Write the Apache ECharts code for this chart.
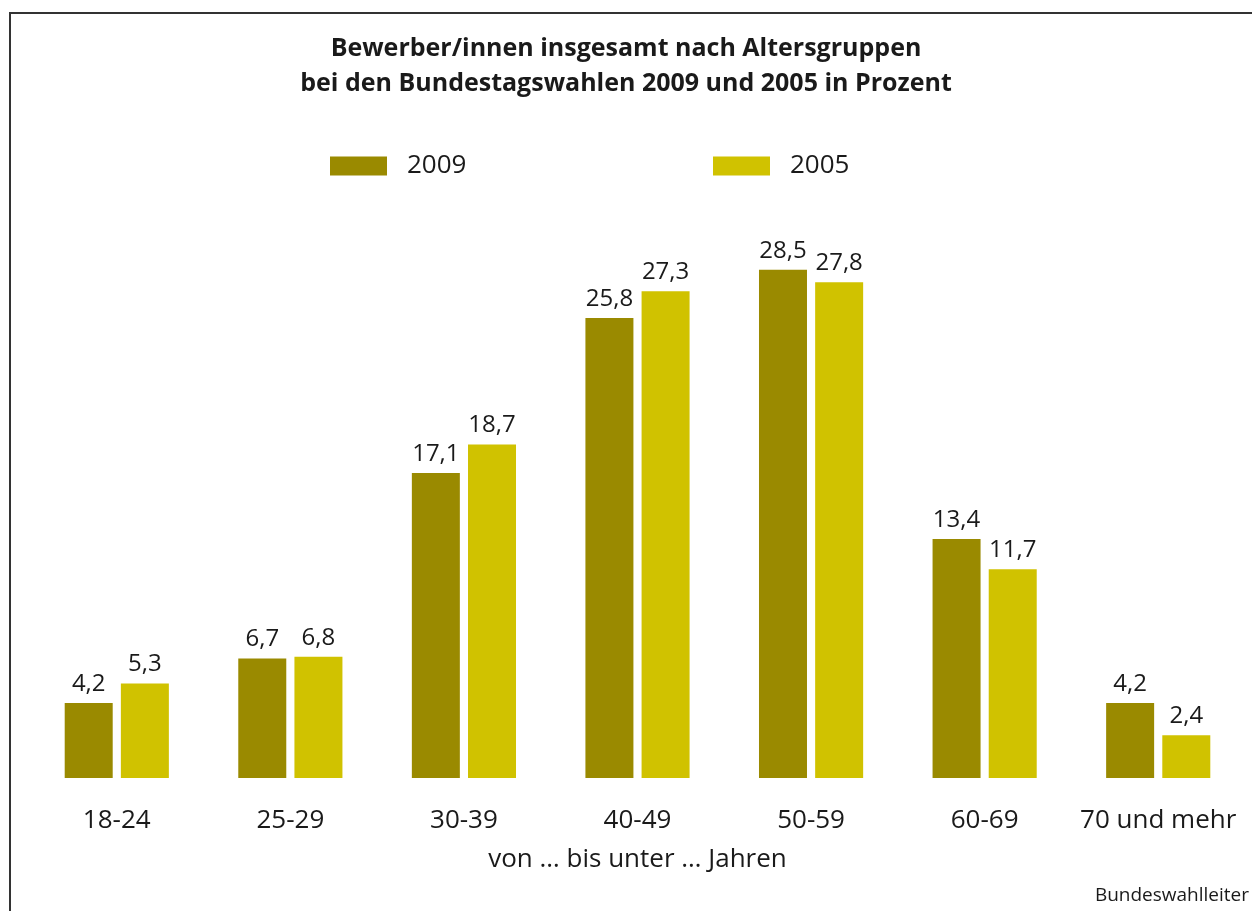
<!DOCTYPE html>
<html>
<head>
<meta charset="utf-8">
<script src="https://cdn.jsdelivr.net/npm/echarts@6/dist/echarts.min.js"></script>
<style>
  html, body { margin: 0; padding: 0; background: #fff; }
  #chart { width: 1252px; height: 911px; }
</style>
</head>
<body>
<div id="chart"></div>
<script>
const categories = ['18-24', '25-29', '30-39', '40-49', '50-59', '60-69', '70 und mehr'];
const values2009 = [4.2, 6.7, 17.1, 25.8, 28.5, 13.4, 4.2];
const values2005 = [5.3, 6.8, 18.7, 27.3, 27.8, 11.7, 2.4];

const FONT = '"Open Sans", "Noto Sans", sans-serif';

const chart = echarts.init(document.getElementById('chart'));

function fmt(p) {
  return p.value.toFixed(1).replace('.', ',');
}

const legendBase = {
  padding: 0,
  icon: 'rect',
  top: 153,
  itemWidth: 57,
  itemHeight: 19,
  textStyle: { fontSize: 26, color: '#1a1a1a', padding: [0, 0, 0, 15] }
};

const option = {
  animation: false,
  textStyle: { fontFamily: FONT },
  title: {
    text: 'Bewerber/innen insgesamt nach Altersgruppen\nbei den Bundestagswahlen 2009 und 2005 in Prozent',
    left: 'center',
    top: 26,
    textStyle: {
      fontFamily: FONT,
      fontSize: 25,
      fontWeight: 'bold',
      color: '#1a1a1a',
      lineHeight: 35
    }
  },
  legend: [
    Object.assign({ data: ['2009'], left: 330 }, legendBase),
    Object.assign({ data: ['2005'], left: 713 }, legendBase)
  ],
  grid: {
    left: 30,
    right: 7,
    top: 243,
    bottom: 133
  },
  xAxis: {
    type: 'category',
    data: categories,
    name: 'von … bis unter … Jahren',
    nameLocation: 'middle',
    nameGap: 69,
    nameTextStyle: { fontSize: 26, color: '#1a1a1a' },
    axisLine: { show: false },
    axisTick: { show: false },
    axisLabel: { interval: 0, fontSize: 26, color: '#1a1a1a', margin: 30 }
  },
  yAxis: {
    type: 'value',
    min: 0,
    max: 30,
    show: false
  },
  series: [{
    name: '2009',
    type: 'bar',
    data: values2009,
    barWidth: 48,
    barGap: '17%',
    itemStyle: { color: '#9a8a00' },
    label: { show: true, position: 'top', distance: 7, fontSize: 24, color: '#1a1a1a', formatter: fmt }
  }, {
    name: '2005',
    type: 'bar',
    data: values2005,
    barWidth: 48,
    itemStyle: { color: '#d0c200' },
    label: { show: true, position: 'top', distance: 7, fontSize: 24, color: '#1a1a1a', formatter: fmt }
  }],
  graphic: [{
    type: 'polyline',
    shape: { points: [[10, 911], [10, 13], [1252, 13]] },
    style: { stroke: '#333', lineWidth: 2, fill: null }
  }, {
    type: 'text',
    right: 3,
    top: 886,
    style: { text: 'Bundeswahlleiter', font: '19px ' + FONT, fill: '#1a1a1a' }
  }]
};

chart.setOption(option);
</script>
</body>
</html>
